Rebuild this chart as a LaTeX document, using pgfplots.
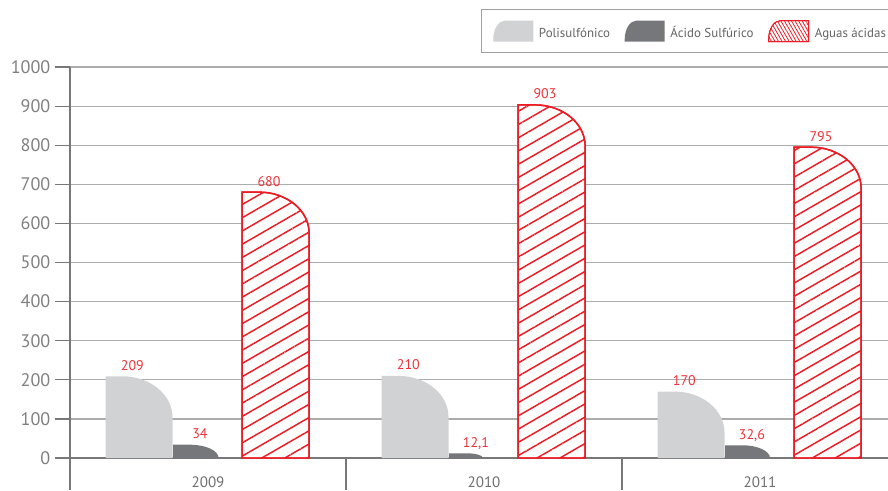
\documentclass[border=0pt]{standalone}
\usepackage{fontspec}
\setmainfont{PT Sans}
\usepackage{pgfplots}
\pgfplotsset{compat=1.18}
\usepackage{pgfplotstable}
\usetikzlibrary{patterns.meta}

\definecolor{lgrey}{RGB}{209,210,212}
\definecolor{dgrey}{RGB}{118,119,122}
\definecolor{cred}{RGB}{237,28,36}
\definecolor{labred}{RGB}{238,50,56}
\definecolor{gridgrey}{RGB}{172,172,172}
\definecolor{axisgrey}{RGB}{120,120,120}
\definecolor{ticktext}{RGB}{128,128,128}
\definecolor{cattext}{RGB}{110,110,110}
\definecolor{legtext}{RGB}{100,100,102}
\definecolor{legborder}{RGB}{160,160,160}

\pgfdeclareplotmark{nomark}{}

% geometry (pt)
\def\ptperunit{0.29325}
\def\barw{50.25}
\def\barrx{37.5}
\def\barry{30.75}

\newcommand\roundbar[1]{%
  \pgfmathsetmacro\bH{\rawy*\ptperunit}%
  \pgfmathsetmacro\bL{-\barw/2}%
  \pgfmathsetmacro\bR{\barw/2}%
  \pgfmathsetmacro\bF{\barw/2-\barrx}%
  \ifdim\bH pt<\barry pt
    \pgfmathsetmacro\bRX{\barrx*sqrt(\bH/\barry)}%
    \path[#1] (\bL pt,-\bH pt) -- (\bL pt,0pt) -- (\bF pt,0pt)
      arc[start angle=90,end angle=0,x radius=\bRX pt,y radius=\bH pt] -- cycle;
  \else
    \path[#1] (\bL pt,-\bH pt) -- (\bL pt,0pt) -- (\bF pt,0pt)
      arc[start angle=90,end angle=0,x radius=\barrx pt,y radius=\barry pt]
      -- (\bR pt,-\bH pt) -- cycle;
  \fi
}

\tikzset{
  polistyle/.style={fill=lgrey,draw=none},
  acidstyle/.style={fill=dgrey,draw=none},
  aguastyle/.style={fill=white,draw=cred,line width=1.1pt,
    postaction={pattern={Lines[angle=30,distance=8.6pt,line width=1.1pt]},pattern color=cred}},
  legaguastyle/.style={fill=white,draw=cred,line width=0.7pt,
    postaction={pattern={Lines[angle=-60,distance=2.3pt,line width=0.6pt]},pattern color=cred}},
}

\newcommand\legswatch[1]{%
  \path[#1] (0pt,-3.2pt) -- (30pt,-3.2pt) -- (30pt,12.55pt) -- (9pt,12.55pt)
    arc[start angle=90,end angle=180,x radius=9pt,y radius=14pt] -- cycle;}

\pgfplotstableread{
x y
0 209
1 210
2 170
}\polisulfonico
\pgfplotstableread{
x y
0 34
1 12.1
2 32.6
}\acido
\pgfplotstableread{
x y
0 680
1 903
2 795
}\aguas

\begin{document}
\begin{tikzpicture}
\begin{axis}[
  scale only axis, width=621pt, height=293.25pt,
  xmin=-0.5, xmax=2.5, ymin=0, ymax=1000,
  axis lines*=left,
  axis line style={draw=axisgrey, line width=0.9pt},
  tick align=outside,
  major tick length=11.25pt,
  ytick={0,100,...,1000},
  ytick style={draw=axisgrey, line width=0.9pt},
  xtick={-0.5,0.5,1.5,2.5},
  xticklabels={2009,2010,2011},
  x tick label as interval,
  xtick style={draw=axisgrey, line width=0.9pt, /pgfplots/major tick length=24pt},
  ymajorgrids,
  grid style={draw=gridgrey, line width=0.9pt},
  yticklabel style={font=\fontsize{13.6}{16}\selectfont, text=ticktext},
  xticklabel style={font=\fontsize{11.3}{13}\selectfont, text=cattext, inner sep=0pt, yshift=-2.9pt},
  /pgf/number format/use comma,
  /pgf/number format/1000 sep={},
  /pgf/number format/assume math mode=true,
  scaled y ticks=false,
  nodes near coords,
  every node near coord/.append style={font=\fontsize{10.5}{12}\selectfont, text=labred, inner sep=0pt, anchor=base, yshift=4.5pt, xshift=-5pt},
  legend columns=3,
  legend cell align=left,
  legend style={at={(axis description cs:0.4964,1.1476)}, anchor=north west,
    draw=legborder, line width=0.75pt, inner xsep=8.8pt, inner ysep=7.75pt,
    font=\fontsize{9.7}{11}\selectfont, text=legtext,
    nodes={inner sep=0pt, text depth=0pt},
    cells={anchor=base west},
    /tikz/every odd column/.append style={column sep=4.3pt},
    /tikz/every even column/.append style={column sep=11pt}},
]
\addplot[scatter, only marks, mark=nomark,
  visualization depends on={rawy \as \rawy},
  scatter/@pre marker code/.code={\roundbar{polistyle}},
  legend image code/.code={\legswatch{polistyle}}]
  table[x expr=\thisrow{x}-0.25, y=y] {\polisulfonico};
\addlegendentry{Polisulfónico}
\addplot[scatter, only marks, mark=nomark,
  visualization depends on={rawy \as \rawy},
  scatter/@pre marker code/.code={\roundbar{acidstyle}},
  legend image code/.code={\legswatch{acidstyle}}]
  table[x expr=\thisrow{x}-0.005, y=y] {\acido};
\addlegendentry{Ácido Sulfúrico}
\addplot[scatter, only marks, mark=nomark,
  visualization depends on={rawy \as \rawy},
  scatter/@pre marker code/.code={\roundbar{aguastyle}},
  legend image code/.code={\legswatch{legaguastyle}}]
  table[x expr=\thisrow{x}+0.245, y=y] {\aguas};
\addlegendentry{Aguas ácidas}
\end{axis}
\pgfresetboundingbox
\path[use as bounding box] ([xshift=-52.5pt,yshift=-24pt]current axis.south west)
  rectangle ([xshift=613.5pt,yshift=343.5pt]current axis.south west);
\end{tikzpicture}
\end{document}
